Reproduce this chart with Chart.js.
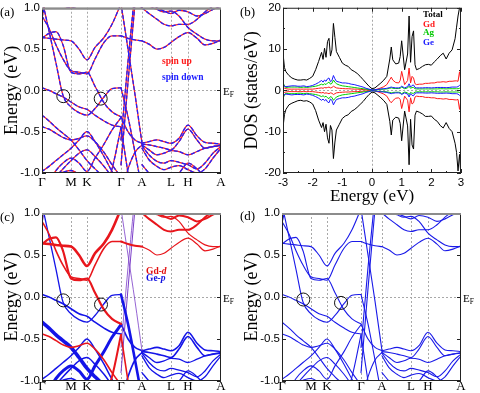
<!DOCTYPE html>
<html><head><meta charset="utf-8">
<script src="https://cdn.jsdelivr.net/npm/chart.js@4.4.1/dist/chart.umd.min.js"></script>
<style>
html,body{margin:0;padding:0;background:#fff;}
#wrap{position:relative;width:480px;height:393px;overflow:hidden;background:#fff;}
canvas{position:absolute;}
.t{position:absolute;white-space:nowrap;font-family:"Liberation Serif","Times New Roman",serif;line-height:1;color:#000;}
.lab{font-size:13px;}
.ef{font-size:11px;}
.ef sub{font-size:7.5px;vertical-align:-2px;line-height:1;}
.lg{font-size:9.5px;font-weight:bold;}
</style></head><body>
<div id="wrap">
<canvas id="ca" width="240" height="200" style="left:0;top:0"></canvas>
<canvas id="cb" width="240" height="208" style="left:240px;top:0"></canvas>
<canvas id="cc" width="240" height="193" style="left:0;top:200px"></canvas>
<canvas id="cd" width="240" height="193" style="left:240px;top:200px"></canvas>
<div class="t lab" style="left:0;top:5px">(a)</div>
<div class="t lab" style="left:240px;top:5px">(b)</div>
<div class="t lab" style="left:0;top:210px">(c)</div>
<div class="t lab" style="left:240px;top:209px">(d)</div>
<div class="t ef" style="left:223px;top:85.5px">E<sub>F</sub></div>
<div class="t ef" style="left:223px;top:292.5px">E<sub>F</sub></div>
<div class="t ef" style="left:463px;top:292.5px">E<sub>F</sub></div>
<div class="t lg" style="left:162px;top:57px;color:#ff1a1a">spin up</div>
<div class="t lg" style="left:162px;top:73px;color:#1a1aff">spin down</div>
<div class="t lg" style="left:423px;top:10px;font-size:9px;color:#000">Total</div>
<div class="t lg" style="left:423px;top:19.5px;font-size:9px;color:#ff1a1a">Gd</div>
<div class="t lg" style="left:423px;top:28px;font-size:9px;color:#00c800">Ag</div>
<div class="t lg" style="left:423px;top:38px;font-size:9px;color:#1a1aff">Ge</div>
<div class="t lg" style="left:146px;top:267px;color:#e01010">Gd-<i>d</i></div>
<div class="t lg" style="left:146px;top:274px;color:#1010e0">Ge-<i>p</i></div>
</div>
<script>
// ---------- k-path and tick labels ----------
const kTicks = [0, 29, 45, 79, 100, 129, 146, 179];
const kLabels = ['Γ', 'M', 'K', 'Γ', 'A', 'L', 'H', 'A'];
const eTicks = [-1, -0.5, 0, 0.5, 1];

// ---------- band energies (eV) ----------
// segment Γ-M-K-Γ
const seg1K = [0, 7, 14, 21, 29, 37, 45, 53, 62, 70, 79];
const s1b1 = [1.10, 0.72, 0.33, -0.06, -0.20, -0.27, -0.30, -0.22, -0.08, 0.02, 0.03];
const s1b2 = [0.03, 0.00, -0.04, -0.08, -0.14, -0.20, -0.23, -0.30, -0.37, -0.42, -0.44];
const s1b3 = [0.63, 0.69, 0.71, 0.55, 0.22, 0.20, 0.22, 0.05, -0.15, -0.26, -0.32];
const s1b4 = [0.90, 0.75, 0.55, 0.38, 0.24, 0.22, 0.20, 0.38, 0.58, 0.66, 0.66];
const s1b5 = [0.64, 0.63, 0.62, 0.61, 0.60, 0.50, 0.37, 0.52, 0.64, 0.80, 1.05];
const s1b6 = [0.88, 1.25, 1.60, 1.90, 2.00, 2.00, 2.00, 2.00, 2.00, 2.00, 2.00];
const s1b7 = [1.30, 1.15, 1.06, 1.02, 1.00, 1.03, 1.10, 1.20, 1.30, 1.40, 1.50];
const s1b8 = [-0.30, -0.37, -0.45, -0.52, -0.60, -0.72, -0.85, -0.95, -1.05, -1.15, -1.25];
const s1b9 = [-0.44, -0.47, -0.52, -0.57, -0.60, -0.58, -0.55, -0.62, -0.75, -0.90, -1.05];
const s1b10 = [-0.98, -0.92, -0.85, -0.78, -0.70, -0.60, -0.50, -0.62, -0.80, -0.98, -1.15];
const s1b11 = [-1.30, -1.20, -1.05, -0.95, -0.85, -0.76, -0.72, -0.80, -0.92, -1.05, -1.20];
const s1b12 = [-2.00, -2.00, -2.00, -2.00, -1.90, -1.80, -1.60, -1.40, -1.20, -0.95, -0.45];
const s1b13 = [-1.20, -1.10, -0.97, -0.88, -0.82, -0.88, -0.98, -0.82, -0.65, -0.48, -0.33];
const s1b14 = [-1.10, -1.05, -1.02, -0.99, -0.97, -1.02, -1.10, -1.20, -1.30, -1.40, -1.50];
// segment Γ-A
const seg2K = [79, 86, 93, 100];
const s2b1 = [0.03, -0.32, -0.75, -1.20];
const s2b2 = [0.66, 0.63, 0.61, 0.60];
const s2b3 = [1.05, 0.50, -0.05, -0.64];
const s2b4 = [-0.60, 0.35, 1.20, 1.90];
const s2b5 = [-0.90, 0.10, 1.05, 1.90];
const s2b6 = [-0.32, -0.50, -0.60, -0.64];
const s2b7 = [-0.45, -1.00, -1.50, -2.00];
const s2b8 = [-1.25, -0.95, -0.75, -0.66];
const s2b9 = [1.30, 1.15, 1.05, 1.00];
// segment A-L-H-A
const seg3K = [100, 107, 115, 122, 129, 137, 146, 155, 163, 171, 179];
const s3b1 = [0.60, 0.56, 0.50, 0.52, 0.58, 0.65, 0.70, 0.63, 0.55, 0.57, 0.61];
const s3b2 = [1.00, 0.93, 0.86, 0.80, 0.78, 0.80, 0.80, 0.86, 0.95, 1.02, 1.10];
const s3b3 = [1.08, 1.02, 0.98, 0.95, 0.96, 0.90, 0.76, 0.68, 0.62, 0.60, 0.60];
const s3b4 = [1.15, 1.08, 1.00, 0.96, 0.93, 0.97, 0.95, 0.90, 0.93, 0.98, 1.02];
const s3b5 = [-0.64, -0.62, -0.60, -0.62, -0.64, -0.58, -0.42, -0.55, -0.63, -0.64, -0.65];
const s3b6 = [-0.65, -0.66, -0.68, -0.70, -0.72, -0.62, -0.47, -0.60, -0.70, -0.68, -0.66];
const s3b7 = [-0.66, -0.72, -0.78, -0.76, -0.73, -0.74, -0.78, -0.74, -0.70, -0.68, -0.67];
const s3b8 = [-0.67, -0.78, -0.86, -0.88, -0.85, -0.87, -0.90, -0.95, -0.88, -0.76, -0.68];
const s3b9 = [-0.70, -0.84, -0.92, -0.96, -0.93, -0.91, -0.96, -1.00, -0.95, -0.82, -0.70];
const s3b10 = [-0.90, -1.00, -1.08, -1.10, -1.05, -1.00, -0.88, -0.95, -1.05, -1.10, -1.10];

const seg1Bands = [s1b1, s1b2, s1b3, s1b4, s1b5, s1b6, s1b7, s1b8, s1b9, s1b10, s1b11, s1b12, s1b13, s1b14];
const seg2Bands = [s2b1, s2b2, s2b3, s2b4, s2b5, s2b6, s2b7, s2b8, s2b9];
const seg3Bands = [s3b1, s3b2, s3b3, s3b4, s3b5, s3b6, s3b7, s3b8, s3b9, s3b10];

// orbital character (d = Gd-d, p = Ge-p, m = mixed) and projection weight for panel (c)
const seg1Char = ['p', 'p', 'd', 'd', 'd', 'm', 'd', 'p', 'd', 'p', 'p', 'd', 'p', 'p'];
const seg1Wt = [1.3, 1.6, 2.2, 1.6, 2.6, 0.8, 1.2, 3.6, 1.6, 1.5, 1.5, 2.0, 3.0, 1.5];
const seg2Char = ['p', 'd', 'm', 'm', 'm', 'p', 'd', 'p', 'd'];
const seg2Wt = [2.6, 2.0, 0.8, 0.8, 1.0, 1.6, 1.6, 1.6, 1.6];
const seg3Char = ['d', 'd', 'd', 'd', 'p', 'p', 'p', 'p', 'p', 'p'];
const seg3Wt = [1.2, 2.0, 1.2, 2.0, 1.6, 1.6, 1.3, 1.3, 1.3, 1.3];

// Dirac-like crossings marked by circles
const aCircK = [21.3, 58.7], aCircE = [-0.07, -0.10];
const cCircK = [21.3, 59.0], cCircE = [-0.04, -0.09];
const dCircK = [21.3, 59.0], dCircE = [-0.03, -0.07];

// ---------- DOS (states/eV) ----------
const dosE = [-3.0,-2.95,-2.9,-2.8,-2.7,-2.6,-2.5,-2.4,-2.3,-2.2,
 -2.1,-2.0,-1.9,-1.8,-1.7,-1.65,-1.6,-1.55,-1.5,-1.45,
 -1.4,-1.35,-1.3,-1.25,-1.2,-1.1,-1.0,-0.9,-0.8,-0.7,
 -0.6,-0.5,-0.4,-0.3,-0.2,-0.1,0.0,0.1,0.2,0.3,
 0.4,0.5,0.6,0.65,0.7,0.8,0.9,0.95,1.0,1.1,
 1.2,1.25,1.3,1.35,1.4,1.45,1.5,1.6,1.7,1.8,
 1.9,2.0,2.1,2.2,2.3,2.4,2.5,2.6,2.7,2.8,
 2.85,2.9,2.95,3.0];
const totalUp = [9.0,5.5,4.5,3.6,3.0,2.7,2.5,2.5,2.6,2.5,
 2.9,3.4,5.0,7.0,9.2,7.5,10.2,8.0,11.8,12.6,
 8.3,9.8,16.2,12.8,9.4,8.0,6.6,6.1,5.8,5.0,
 4.6,4.1,3.4,2.6,1.8,1.0,0.4,0.6,1.2,1.8,
 2.5,3.4,7.6,10.5,7.4,6.4,6.6,8.2,12.0,5.0,
 8.8,18.0,6.8,13.0,14.4,6.2,5.0,5.3,5.8,6.2,
 6.3,6.1,6.9,7.6,8.4,9.0,7.6,9.0,9.8,12.5,
 15.3,18.0,20.0,21.0];
const totalDown = [-9.0,-5.8,-4.6,-3.5,-3.1,-2.8,-2.5,-2.4,-2.6,-2.5,
 -2.8,-3.3,-4.9,-7.2,-9.0,-7.8,-10.0,-8.2,-11.5,-12.8,
 -8.5,-9.6,-16.5,-12.5,-9.6,-8.2,-6.8,-6.2,-5.9,-5.1,
 -4.7,-4.1,-3.4,-2.7,-1.8,-1.0,-0.4,-0.6,-1.2,-1.8,
 -2.5,-3.4,-7.5,-10.8,-7.2,-6.5,-6.7,-8.0,-12.2,-5.0,
 -8.6,-18.0,-7.0,-13.2,-14.2,-6.0,-5.0,-5.3,-5.7,-6.3,
 -6.3,-6.2,-7.0,-7.5,-8.5,-9.1,-7.8,-9.2,-10.0,-12.8,
 -15.0,-19.5,-15.5,-21.0];
const gdUp = [0.9,0.5,0.4,0.3,0.3,0.3,0.3,0.3,0.3,0.3,
 0.3,0.3,0.4,0.5,0.6,0.5,0.7,0.6,0.7,0.8,
 0.6,0.7,1.0,0.8,0.6,0.5,0.45,0.4,0.4,0.35,
 0.3,0.3,0.25,0.2,0.15,0.1,0.05,0.15,0.35,0.6,
 0.9,1.4,2.6,3.2,2.5,1.9,1.8,2.4,4.6,1.4,
 2.4,5.4,1.8,3.4,3.0,1.6,1.4,1.5,1.5,1.7,
 1.7,1.8,1.8,2.0,2.0,2.1,2.0,2.2,2.2,2.3,
 2.3,2.2,4.5,2.2];
const gdDown = [-0.9,-0.5,-0.4,-0.3,-0.3,-0.3,-0.3,-0.3,-0.3,-0.3,
 -0.3,-0.3,-0.4,-0.5,-0.6,-0.5,-0.7,-0.6,-0.7,-0.8,
 -0.6,-0.7,-1.0,-0.8,-0.6,-0.5,-0.45,-0.4,-0.4,-0.35,
 -0.3,-0.3,-0.25,-0.2,-0.15,-0.1,-0.05,-0.15,-0.35,-0.6,
 -0.9,-1.4,-2.6,-3.0,-2.5,-1.9,-1.8,-2.2,-4.4,-1.4,
 -2.4,-5.2,-1.8,-3.3,-3.0,-1.6,-1.4,-1.5,-1.5,-1.7,
 -1.7,-1.8,-1.8,-2.0,-2.0,-2.1,-2.0,-2.2,-2.2,-2.3,
 -2.3,-2.2,-4.6,-2.2];
const agUp = [2.0,1.0,0.7,0.8,0.8,0.8,0.8,0.7,0.8,0.7,
 0.8,0.9,1.0,1.2,1.5,1.3,1.6,1.4,1.8,2.0,
 1.5,1.7,2.5,2.0,1.6,1.3,1.1,1.0,0.9,0.8,
 0.7,0.6,0.5,0.4,0.3,0.2,0.1,0.15,0.2,0.25,
 0.3,0.35,0.5,0.6,0.5,0.45,0.45,0.5,0.8,0.4,
 0.6,1.0,0.5,0.7,0.7,0.4,0.35,0.35,0.35,0.35,
 0.35,0.35,0.35,0.35,0.4,0.4,0.35,0.4,0.4,0.4,
 0.4,0.4,0.5,0.4];
const agDown = [-2.0,-1.0,-0.7,-0.8,-0.8,-0.8,-0.7,-0.7,-0.8,-0.7,
 -0.8,-0.9,-1.0,-1.2,-1.5,-1.3,-1.6,-1.4,-1.8,-2.0,
 -1.5,-1.7,-2.4,-2.0,-1.6,-1.3,-1.1,-1.0,-0.9,-0.8,
 -0.7,-0.6,-0.5,-0.4,-0.3,-0.2,-0.1,-0.15,-0.2,-0.25,
 -0.3,-0.35,-0.5,-0.6,-0.5,-0.45,-0.45,-0.5,-0.8,-0.4,
 -0.6,-1.0,-0.5,-0.7,-0.7,-0.4,-0.35,-0.35,-0.35,-0.35,
 -0.35,-0.35,-0.35,-0.35,-0.4,-0.4,-0.35,-0.4,-0.4,-0.4,
 -0.4,-0.4,-0.5,-0.4];
const geUp = [1.6,1.0,0.9,1.0,1.1,1.1,1.0,1.0,1.1,0.9,
 1.0,1.2,1.5,1.9,2.4,2.0,2.5,2.2,2.8,3.0,
 2.1,2.4,3.6,2.8,2.2,2.0,1.8,1.8,1.7,1.5,
 1.4,1.2,1.0,0.8,0.5,0.3,0.1,0.15,0.25,0.35,
 0.4,0.5,0.7,0.8,0.7,0.6,0.6,0.7,1.0,0.6,
 0.9,1.6,0.8,1.2,1.3,0.7,0.6,0.6,0.6,0.65,
 0.65,0.6,0.65,0.7,0.7,0.7,0.65,0.7,0.8,0.8,
 0.8,0.9,1.2,0.9];
const geDown = [-1.6,-1.0,-0.9,-1.0,-1.1,-1.0,-1.0,-1.0,-1.1,-0.9,
 -1.0,-1.2,-1.5,-1.9,-2.4,-2.1,-2.5,-2.2,-2.8,-3.0,
 -2.1,-2.4,-3.5,-2.8,-2.2,-2.0,-1.8,-1.8,-1.7,-1.5,
 -1.4,-1.2,-1.0,-0.8,-0.5,-0.3,-0.1,-0.15,-0.25,-0.35,
 -0.4,-0.5,-0.7,-0.8,-0.7,-0.6,-0.6,-0.7,-1.0,-0.6,
 -0.9,-1.6,-0.8,-1.2,-1.3,-0.7,-0.6,-0.6,-0.6,-0.65,
 -0.65,-0.6,-0.65,-0.7,-0.7,-0.7,-0.65,-0.7,-0.8,-0.8,
 -0.8,-0.9,-1.2,-0.9];
const dosXTicks = [-3, -2, -1, 0, 1, 2, 3];
const dosXMinor = [-2.5, -1.5, -0.5, 0.5, 1.5, 2.5];
const dosYTicks = [-20, -10, 0, 10, 20];
const dosYMinor = [-15, -5, 5, 15];

// ---------- drawing ----------
Chart.defaults.font.family = "'Liberation Sans', Arial, sans-serif";
Chart.defaults.color = '#000';
const SERIF = "'Liberation Serif', 'Times New Roman', serif";

function pts(ks, vs) { return ks.map((k, i) => ({ x: k, y: vs[i] })); }

const framePlugin = {
  id: 'frame',
  beforeDatasetsDraw(chart, args, o) {
    const { ctx, chartArea: a } = chart; const x = chart.scales.x, y = chart.scales.y;
    ctx.save();
    ctx.strokeStyle = '#a8a8a8'; ctx.lineWidth = 1; ctx.setLineDash([2, 2]);
    (o.vLines || []).forEach(v => { const p = Math.round(x.getPixelForValue(v)) + 0.5; ctx.beginPath(); ctx.moveTo(p, a.top); ctx.lineTo(p, a.bottom); ctx.stroke(); });
    (o.hLines || []).forEach(v => { const p = Math.round(y.getPixelForValue(v)) + 0.5; ctx.beginPath(); ctx.moveTo(a.left, p); ctx.lineTo(a.right, p); ctx.stroke(); });
    ctx.restore();
  },
  afterDatasetsDraw(chart, args, o) {
    const { ctx, chartArea: a } = chart; const x = chart.scales.x, y = chart.scales.y;
    ctx.save(); ctx.setLineDash([]); ctx.strokeStyle = '#222'; ctx.lineWidth = 1;
    const tick = (list, len, axis) => list.forEach(v => {
      if (axis === 'y') { const p = Math.round(y.getPixelForValue(v)) + 0.5; ctx.beginPath(); ctx.moveTo(a.left, p); ctx.lineTo(a.left + len, p); ctx.moveTo(a.right, p); ctx.lineTo(a.right - len, p); ctx.stroke(); }
      else { const p = Math.round(x.getPixelForValue(v)) + 0.5; ctx.beginPath(); ctx.moveTo(p, a.bottom); ctx.lineTo(p, a.bottom - len); ctx.moveTo(p, a.top); ctx.lineTo(p, a.top + len); ctx.stroke(); }
    });
    tick(o.yMajor || [], 4, 'y'); tick(o.yMinor || [], 2, 'y');
    tick(o.xMajor || [], 4, 'x'); tick(o.xMinor || [], 2, 'x');
    ctx.strokeRect(a.left + 0.5, a.top + 0.5, a.right - a.left - 1, a.bottom - a.top - 1);
    if (o.topGray) { ctx.strokeStyle = '#8c8c8c'; ctx.lineWidth = 2; ctx.beginPath(); ctx.moveTo(a.left, a.top + 1); ctx.lineTo(a.right, a.top + 1); ctx.stroke(); }
    ctx.restore();
  }
};

function bandChart(id, datasets, cfg) {
  datasets.push({ data: pts(cfg.circK, cfg.circE), showLine: false, pointRadius: 6.5, pointHoverRadius: 6.5, order: -1,
    pointStyle: 'circle', pointBorderColor: '#111', pointBackgroundColor: 'rgba(0,0,0,0)', pointBorderWidth: 1, clip: false });
  return new Chart(document.getElementById(id), {
    type: 'line',
    data: { datasets },
    options: {
      animation: false, responsive: false, events: [],
      layout: { padding: { top: cfg.top, right: 19, left: 0, bottom: 0 } },
      plugins: { legend: { display: false }, tooltip: { enabled: false },
        frame: { vLines: kTicks.slice(1, -1), hLines: [0], yMajor: eTicks, topGray: true } },
      elements: { point: { radius: 0 }, line: { tension: 0.4, cubicInterpolationMode: 'monotone', borderCapStyle: 'round', borderJoinStyle: 'round' } },
      scales: {
        x: { type: 'linear', min: 0, max: 179, grid: { display: false, drawTicks: false, tickLength: 0 }, border: { display: false },
          afterBuildTicks: s => { s.ticks = kTicks.map(v => ({ value: v })); },
          afterFit: s => { s.height = cfg.H - cfg.bottom; },
          ticks: { autoSkip: false, maxRotation: 0, padding: cfg.kPad, color: '#000', font: { family: SERIF, size: 13, lineHeight: 1 }, callback: (v, i) => kLabels[i] } },
        y: { type: 'linear', min: -1, max: 1, grid: { display: false, drawTicks: false, tickLength: 0 }, border: { display: false },
          afterFit: s => { s.width = 42; },
          ticks: { stepSize: 0.5, padding: 2, color: '#000', font: { size: 11.5, lineHeight: 1 }, callback: v => v.toFixed(1) },
          title: { display: true, text: 'Energy (eV)', color: '#000', font: { family: SERIF, size: 18, lineHeight: 1.2 }, padding: { top: 1, bottom: 0 } } }
      }
    },
    plugins: [framePlugin]
  });
}

const segK = [seg1K, seg2K, seg3K];
const segBands = [seg1Bands, seg2Bands, seg3Bands];
const segChar = [seg1Char, seg2Char, seg3Char];
const segWt = [seg1Wt, seg2Wt, seg3Wt];

// Chart.js paints dataset 0 last (on top): list the top layer first.
// (a) spin down (blue, dashed, on top) over spin up (red)
const dsA = [];
segBands.forEach((bands, s) => bands.forEach(b => {
  dsA.push({ data: pts(segK[s], b), borderColor: '#2020ff', borderWidth: 1.3, borderDash: [3, 3], clip: 0 });
}));
segBands.forEach((bands, s) => bands.forEach(b => {
  dsA.push({ data: pts(segK[s], b), borderColor: '#ff2020', borderWidth: 1.3, clip: 0 });
}));
bandChart('ca', dsA, { H: 200, top: 6, bottom: 173, kPad: 3, circK: aCircK, circE: aCircE });

// (c) orbital-projected fat bands (Gd-d on top)
const charColor = { d: '#e8161c', p: '#1414e8', m: '#7a3cc8' };
const dsC = [];
[0, 1, 2].forEach(s => segBands[s].forEach((b, i) => {
  if (segChar[s][i] === 'd') dsC.push({ data: pts(segK[s], b), borderColor: charColor.d, borderWidth: segWt[s][i], clip: 0 });
}));
[0, 1, 2].forEach(s => segBands[s].forEach((b, i) => {
  if (segChar[s][i] !== 'd') dsC.push({ data: pts(segK[s], b), borderColor: charColor[segChar[s][i]], borderWidth: segWt[s][i], clip: 0 });
}));
bandChart('cc', dsC, { H: 193, top: 13, bottom: 181, kPad: -1, circK: cCircK, circE: cCircE });

// (d) bands with spin-orbit coupling
const dsD = [];
segBands.forEach((bands, s) => bands.forEach(b => {
  dsD.push({ data: pts(segK[s], b), borderColor: '#1a1ae8', borderWidth: 1.1, clip: 0 });
}));
bandChart('cd', dsD, { H: 193, top: 13, bottom: 181, kPad: -1, circK: dCircK, circE: dCircE });

// (b) DOS
function dosSet(vals, color) { return { data: pts(dosE, vals), borderColor: color, borderWidth: 1, tension: 0, clip: 0 }; }
new Chart(document.getElementById('cb'), {
  type: 'line',
  data: { datasets: [
    dosSet(geUp, '#1a1aff'), dosSet(geDown, '#1a1aff'),
    dosSet(agUp, '#00d000'), dosSet(agDown, '#00d000'),
    dosSet(gdUp, '#ff1a1a'), dosSet(gdDown, '#ff1a1a'),
    dosSet(totalUp, '#000'), dosSet(totalDown, '#000')
  ] },
  options: {
    animation: false, responsive: false, events: [],
    layout: { padding: { top: 7, right: 19, left: 0, bottom: 0 } },
    plugins: { legend: { display: false }, tooltip: { enabled: false },
      frame: { vLines: [0], hLines: [0], xMajor: dosXTicks, xMinor: dosXMinor, yMajor: dosYTicks, yMinor: dosYMinor } },
    elements: { point: { radius: 0 } },
    scales: {
      x: { type: 'linear', min: -3, max: 3, grid: { display: false, drawTicks: false, tickLength: 0 }, border: { display: false },
        afterBuildTicks: s => { s.ticks = dosXTicks.map(v => ({ value: v })); },
        afterFit: s => { s.height = 208 - 173; },
        ticks: { autoSkip: false, maxRotation: 0, padding: 4, color: '#000', font: { size: 11.5, lineHeight: 1 } },
        title: { display: true, text: 'Energy (eV)', color: '#000', font: { family: SERIF, size: 17, lineHeight: 1.2 }, padding: { top: 0, bottom: 1 } } },
      y: { type: 'linear', min: -20, max: 20, grid: { display: false, drawTicks: false, tickLength: 0 }, border: { display: false },
        afterBuildTicks: s => { s.ticks = dosYTicks.map(v => ({ value: v })); },
        afterFit: s => { s.width = 43; },
        ticks: { padding: 2, color: '#000', font: { size: 11.5, lineHeight: 1 } },
        title: { display: true, text: 'DOS (states/eV)', color: '#000', font: { family: SERIF, size: 18, lineHeight: 1.2 }, padding: { top: 1, bottom: 0 } } }
    }
  },
  plugins: [framePlugin]
});
</script>
</body></html>
